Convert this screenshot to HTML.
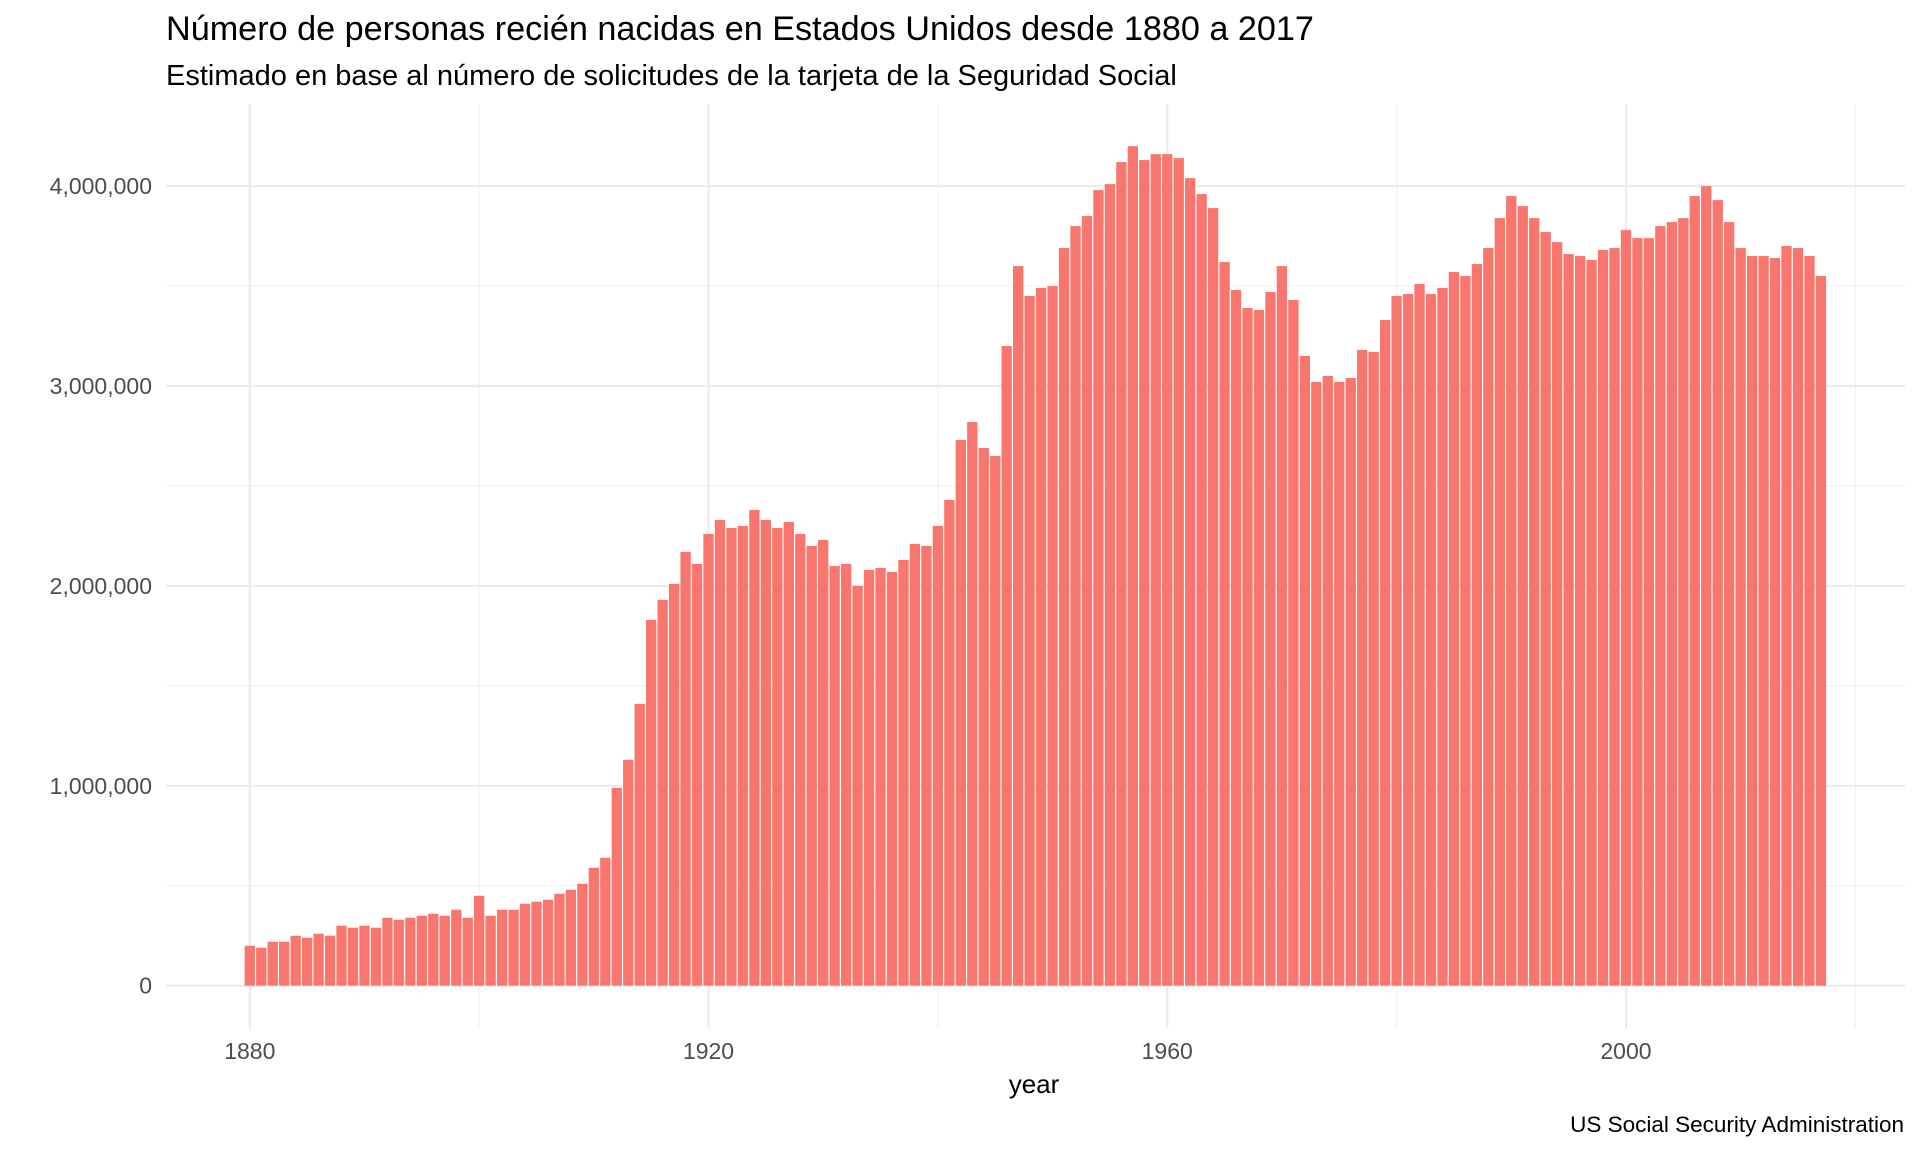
<!DOCTYPE html>
<html><head><meta charset="utf-8"><style>
html,body{margin:0;padding:0;background:#fff;}
svg{display:block;font-family:"Liberation Sans",sans-serif;}
</style></head><body>
<svg id="chart" width="1920" height="1152">
<text x="166" y="40" font-size="34.2" fill="#000">Número de personas recién nacidas en Estados Unidos desde 1880 a 2017</text>
<text x="166" y="85" font-size="29" fill="#000">Estimado en base al número de solicitudes de la tarjeta de la Seguridad Social</text>
<g id="grid"></g><g id="bars"></g><g id="axes"></g>
<text x="1034" y="1093" font-size="26" text-anchor="middle" fill="#000">year</text>
<text x="1904" y="1132" font-size="22.5" text-anchor="end" fill="#000">US Social Security Administration</text>
</svg>
<script>
const startYear = 1880;
const births = [0.20,0.19,0.22,0.22,0.25,0.24,0.26,0.25,0.30,0.29,0.30,0.29,0.34,0.33,0.34,0.35,0.36,0.35,0.38,0.34,
0.45,0.35,0.38,0.38,0.41,0.42,0.43,0.46,0.48,0.51,0.59,0.64,0.99,1.13,1.41,1.83,1.93,2.01,2.17,2.11,
2.26,2.33,2.29,2.30,2.38,2.33,2.29,2.32,2.26,2.20,2.23,2.10,2.11,2.00,2.08,2.09,2.07,2.13,2.21,2.20,
2.30,2.43,2.73,2.82,2.69,2.65,3.20,3.60,3.45,3.49,3.50,3.69,3.80,3.85,3.98,4.01,4.12,4.20,4.13,4.16,
4.16,4.14,4.04,3.96,3.89,3.62,3.48,3.39,3.38,3.47,3.60,3.43,3.15,3.02,3.05,3.02,3.04,3.18,3.17,3.33,
3.45,3.46,3.51,3.46,3.49,3.57,3.55,3.61,3.69,3.84,3.95,3.90,3.84,3.77,3.72,3.66,3.65,3.63,3.68,3.69,
3.78,3.74,3.74,3.80,3.82,3.84,3.95,4.00,3.93,3.82,3.69,3.65,3.65,3.64,3.70,3.69,3.65,3.55];
const xMajor = [1880,1920,1960,2000];
const xMinor = [1900,1940,1980,2020];
const yMajor = [0,1,2,3,4];
const yLabels = ["0","1,000,000","2,000,000","3,000,000","4,000,000"];
const yMinor = [0.5,1.5,2.5,3.5];

const ns="http://www.w3.org/2000/svg";
const L=166,R=1905,T=104,B=1028;
const x=y=>249.8+(y-1880)*11.468;
const yv=v=>985.7-v*199.9;
function mk(tag,attrs,parent){const e=document.createElementNS(ns,tag);for(const k in attrs)e.setAttribute(k,attrs[k]);parent.appendChild(e);return e;}
const grid=document.getElementById('grid'),bars=document.getElementById('bars'),axes=document.getElementById('axes');
xMinor.forEach(v=>{const l=mk('line',{x1:x(v),x2:x(v),y1:T,y2:B,stroke:'#f0f0f0','stroke-width':1.2},grid);

});
yMinor.forEach(v=>{const l=mk('line',{x1:L,x2:R,y1:yv(v),y2:yv(v),stroke:'#f0f0f0','stroke-width':1.2},grid);

});
xMajor.forEach(v=>{const l=mk('line',{x1:x(v),x2:x(v),y1:T,y2:B,stroke:'#ebebeb','stroke-width':2.2},grid);


const t=mk('text',{x:x(v),y:1059,'font-size':23,'text-anchor':'middle',fill:'#4d4d4d'},axes);t.textContent=v;

});
yMajor.forEach((v,i)=>{const l=mk('line',{x1:L,x2:R,y1:yv(v),y2:yv(v),stroke:'#ebebeb','stroke-width':2.2},grid);


const t=mk('text',{x:152,y:yv(v)+8,'font-size':23,'text-anchor':'end',fill:'#4d4d4d'},axes);t.textContent=yLabels[i];

});
births.forEach((v,i)=>{const yr=startYear+i;const w=11.468*0.9;
const r=mk('rect',{x:x(yr)-w/2,y:yv(v),width:w,height:yv(0)-yv(v),fill:'#F8766D'},bars);

});
</script>
</body></html>
